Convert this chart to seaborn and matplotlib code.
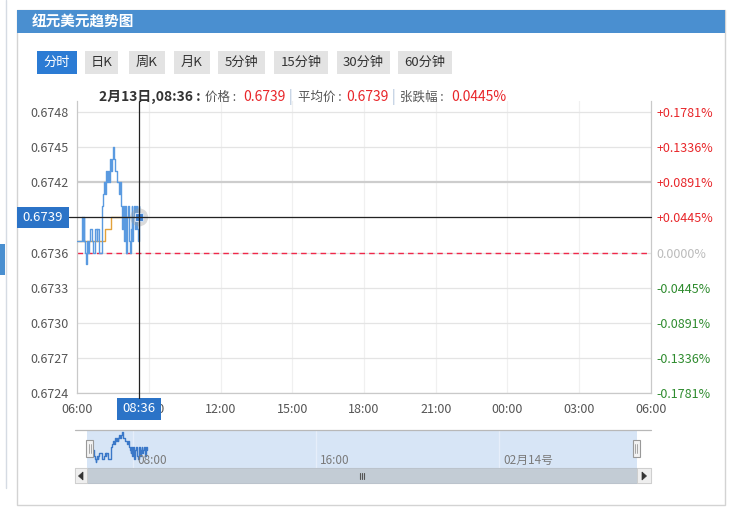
import numpy as np
import pandas as pd
import seaborn as sns
import matplotlib.pyplot as plt
from matplotlib.patches import Rectangle, Circle, Polygon
from matplotlib.lines import Line2D
from matplotlib.transforms import Bbox, TransformedBbox, IdentityTransform

sns.set_theme(style="white")
plt.rcParams['font.family'] = ['Noto Sans CJK SC', 'DejaVu Sans']

# ---------------- data ----------------
title = "纽元美元趋势图"
buttons = ["分时", "日K", "周K", "月K", "5分钟", "15分钟", "30分钟", "60分钟"]
date_label = "2月13日"
base_price = 0.6736  # previous close (red dashed line)

price_minutes = [0, 5, 13, 14, 17, 18, 21, 23, 24, 26, 28, 30, 32, 36, 38, 39, 43, 45, 46, 50,
                 51, 55, 56, 60, 62, 63, 65, 68, 70, 72, 74, 76, 78, 80, 82, 84, 86, 88, 91, 93,
                 95, 98, 100, 104, 106, 108, 110, 112, 114, 116, 118, 120, 122, 124, 126, 128,
                 131, 133, 135, 137, 139, 141, 143, 145, 147, 149, 151, 153, 155, 156]
prices = [0.6737, 0.6737, 0.6739, 0.6737, 0.6739, 0.6737, 0.6736, 0.6735, 0.6736, 0.6737,
          0.6736, 0.6737, 0.6738, 0.6738, 0.6737, 0.6736, 0.6736, 0.6737, 0.6738, 0.6737,
          0.6738, 0.6738, 0.6736, 0.6736, 0.6737, 0.6740, 0.6741, 0.6742, 0.6741, 0.6742,
          0.6743, 0.6742, 0.6743, 0.6742, 0.6743, 0.6744, 0.6743, 0.6744, 0.6745, 0.6744,
          0.6743, 0.6743, 0.6742, 0.6742, 0.6741, 0.6742, 0.6740, 0.6739, 0.6738, 0.6740,
          0.6737, 0.6740, 0.6738, 0.6736, 0.6739, 0.6740, 0.6737, 0.6736, 0.6738, 0.6740,
          0.6737, 0.6739, 0.6740, 0.6738, 0.6739, 0.6740, 0.6738, 0.6737, 0.6740, 0.6739]

avg_minutes = [0, 69, 86, 156]
avg_prices = [0.6737, 0.6738, 0.6739, 0.6739]

y_ticks = [0.6724, 0.6727, 0.6730, 0.6733, 0.6736, 0.6739, 0.6742, 0.6745, 0.6748]
x_ticks_h = [0, 3, 6, 9, 12, 15, 18, 21, 24]
x_tick_labels = ["06:00", "09:00", "12:00", "15:00", "18:00", "21:00", "00:00", "03:00", "06:00"]
nav_ticks_h = [2, 10, 18]
nav_tick_labels = ["08:00", "16:00", "02月14号"]

# ---------------- frame ----------------
W, H = 738, 516
fig = plt.figure(figsize=(W / 100, H / 100), dpi=100)
fig.patch.set_facecolor("white")

def frac(x0, y0, x1, y1):
    return [x0 / W, 1 - y1 / H, (x1 - x0) / W, (y1 - y0) / H]

df = pd.DataFrame({"h": np.array(price_minutes) / 60.0, "price": prices})
dfa = pd.DataFrame({"h": np.array(avg_minutes) / 60.0, "price": avg_prices})

# main axes: y 0.6724 at px 393, 0.0003 per 35.125 px; top at px 101
top_px, bot_px = 101, 393
px_per = 35.125 / 0.0003
ax = fig.add_axes(frac(77, top_px, 651, bot_px))
ax.set_facecolor("white")
ax.set_xlim(0, 24)
ax.set_ylim(y_ticks[0], y_ticks[0] + (bot_px - top_px) / px_per)

for i, yt in enumerate(y_ticks):
    if i == 6:
        ax.axhline(yt, color="#cdcdcd", lw=1.6, zorder=0.5)
    else:
        ax.axhline(yt, color="#e4e4e4", lw=0.9, zorder=0.5)
for xt in x_ticks_h[1:-1]:
    ax.axvline(xt, color="#f0f0f0", lw=0.9, zorder=0.4)

ax.axhline(base_price, color="#f0284a", lw=1.0, ls=(0, (4, 3)), zorder=1)

sns.lineplot(data=dfa, x="h", y="price", ax=ax, color="#e3a23a", lw=1.0,
             drawstyle="steps-post", zorder=2)
sns.lineplot(data=df, x="h", y="price", ax=ax, color="#5a9ae0", lw=1.0,
             drawstyle="steps-post", zorder=3)

last_price = prices[-1]
last_avg = avg_prices[-1]

ax.set_xlabel("")
ax.set_ylabel("")
ax.set_yticks(y_ticks)
ax.set_yticklabels([f"{v:.4f}" for v in y_ticks])
ax.set_xticks(x_ticks_h)
ax.set_xticklabels(x_tick_labels)
ax.tick_params(axis="both", length=0, labelsize=9, colors="#555555")
ax.tick_params(axis="y", pad=6)
ax.tick_params(axis="x", pad=7)
for s in ["left", "right", "bottom"]:
    ax.spines[s].set_color("#c9c9c9")
    ax.spines[s].set_linewidth(0.9)
ax.spines["top"].set_visible(False)

ax2 = ax.twinx()
ax2.set_ylim(ax.get_ylim())
ax2.set_yticks(y_ticks)
pct = [(v - base_price) / base_price * 100 for v in y_ticks]
labels_r = []
for p in pct:
    if abs(p) < 1e-9:
        labels_r.append("0.0000%")
    elif p > 0:
        labels_r.append(f"+{p:.4f}%")
    else:
        labels_r.append(f"-{abs(p):.4f}%")
ax2.set_yticklabels(labels_r)
ax2.tick_params(axis="y", length=0, labelsize=9, pad=4)
for lab, p in zip(ax2.get_yticklabels(), pct):
    lab.set_color("#bbbbbb" if abs(p) < 1e-9 else ("#e8262a" if p > 0 else "#2e8b2e"))
for s in ax2.spines.values():
    s.set_visible(False)
ax2.grid(False)

# navigator
nav = fig.add_axes(frac(87, 430, 637, 468))
nav.set_facecolor("#d7e5f6")
nav.set_xlim(0, 24)
nav.set_ylim(0.67330, 0.674567)
for h in nav_ticks_h:
    nav.axvline(h, color="#e6eefa", lw=1)
sns.lineplot(data=df, x="h", y="price", ax=nav, color="#3b78c8", lw=1.0,
             drawstyle="steps-post")
nav.set_xlabel("")
nav.set_ylabel("")
nav.set_xticks([])
nav.set_yticks([])
for s in nav.spines.values():
    s.set_visible(False)
for h, lab in zip(nav_ticks_h, nav_tick_labels):
    nav.annotate(lab, xy=(h, 0.2), xycoords=("data", "axes fraction"),
                 xytext=(3, 0), textcoords="offset points", fontsize=8.5,
                 color="#7a7a7a", ha="left", va="center")

# ---------------- overlay (pixel coords) ----------------
ov = fig.add_axes([0, 0, 1, 1], zorder=10)
ov.set_xlim(0, W)
ov.set_ylim(H, 0)
ov.set_axis_off()
ov.patch.set_alpha(0)

def R(x0, y0, x1, y1, **kw):
    ov.add_patch(Rectangle((x0, y0), x1 - x0, y1 - y0, **kw))

# left strip
ov.add_line(Line2D([5.5, 5.5], [0, 488], color="#d5dbe3", lw=1))
R(0, 244, 5, 275, facecolor="#4a8fd0", edgecolor="none")

# card
R(17, 10, 725, 505, facecolor="none", edgecolor="#d3d3d3", lw=1)
R(17, 10, 725, 33, facecolor="#4a8fd0", edgecolor="none")
ov.text(32, 21.5, title, color="white", fontsize=10.5, fontweight="bold",
        ha="left", va="center")

# buttons
btn_x = [(37, 77), (85, 118), (129, 165), (174, 210), (218, 265), (274, 328), (337, 390), (398, 452)]
for i, (lab, (x0, x1)) in enumerate(zip(buttons, btn_x)):
    sel = i == 0
    R(x0, 51, x1, 74, facecolor="#2b7bd4" if sel else "#e3e3e3", edgecolor="none")
    ov.text((x0 + x1) / 2, 62.5, lab, color="white" if sel else "#333333",
            fontsize=9.5, ha="center", va="center")

# info line
chg = (last_price - base_price) / base_price * 100
tot_min = 6 * 60 + price_minutes[-1]
time_lab = f"{(tot_min // 60) % 24:02d}:{tot_min % 60:02d}"
pieces = [
    (99, f"{date_label},{time_lab} :", "#333333", "bold", 10),
    (205, "价格 :", "#555555", "normal", 9),
    (243, f"{last_price:.4f}", "#e8262a", "normal", 10),
    (289, "|", "#a9bfd8", "normal", 10),
    (298, "平均价 :", "#555555", "normal", 9),
    (346, f"{last_avg:.4f}", "#e8262a", "normal", 10),
    (392, "|", "#a9bfd8", "normal", 10),
    (400, "张跌幅 :", "#555555", "normal", 9),
    (451, f"{chg:.4f}%", "#e8262a", "normal", 10),
]
for x, t, c, w, fs in pieces:
    ov.text(x, 97, t, color=c, fontsize=fs, fontweight=w, ha="left", va="center")

# crosshair from last data point
dx, dy = ax.transData.transform((df["h"].iloc[-1], last_price))
cx, cy = dx, H - dy
ov.add_line(Line2D([cx, cx], [top_px, 398], color="#222222", lw=0.9))
ov.add_line(Line2D([69, 651], [cy, cy], color="#222222", lw=0.9))
ov.add_patch(Circle((cx, cy), 9, facecolor="#9a9a9a", alpha=0.35, edgecolor="none"))
R(cx - 4, cy - 4, cx + 4, cy + 4, facecolor="#3d7fd0", edgecolor="#cfe0f5", lw=0.8)

R(17, cy - 10.5, 69, cy + 10.5, facecolor="#2b73c7", edgecolor="none")
ov.text(43, cy, f"{last_price:.4f}", color="white", fontsize=9.5, ha="center", va="center")
R(cx - 22, 398, cx + 22, 420, facecolor="#2b73c7", edgecolor="none")
ov.text(cx, 409, time_lab, color="white", fontsize=9.5, ha="center", va="center")

# tick labels hidden behind the crosshair labels (as in the reference)
for lab, v in zip(ax.get_yticklabels(), y_ticks):
    if abs(v - last_price) < 1e-9:
        lab.set_visible(False)
clip = TransformedBbox(Bbox.from_extents(cx + 22, 0, W, H), IdentityTransform())
xl = ax.get_xticklabels()
xl[1].set_clip_box(clip)
xl[1].set_clip_on(True)

# navigator frame & scrollbar
ov.add_line(Line2D([75, 651], [430, 430], color="#b8b8b8", lw=0.9))
R(75, 468, 651, 483, facecolor="#f2f2f2", edgecolor="#d0d0d0", lw=0.8)
R(87, 468, 637, 483, facecolor="#c3ccd5", edgecolor="#b9c2cb", lw=0.6)
R(75, 468, 87, 483, facecolor="#eeeeee", edgecolor="#cccccc", lw=0.6)
R(637, 468, 651, 483, facecolor="#eeeeee", edgecolor="#cccccc", lw=0.6)
ov.add_patch(Polygon([[83, 472], [83, 480], [78.5, 476]], closed=True,
                     facecolor="#333333", edgecolor="#333333", lw=0.5, zorder=5))
ov.add_patch(Polygon([[642, 472], [642, 480], [646.5, 476]], closed=True,
                     facecolor="#333333", edgecolor="#333333", lw=0.5, zorder=5))
for gx in (360, 362, 364):
    ov.add_line(Line2D([gx, gx], [473, 479], color="#555555", lw=0.8))
for hx in (89.5, 636):
    R(hx - 3.5, 440, hx + 3.5, 457, facecolor="#f2f2f2", edgecolor="#999999", lw=0.8)
    ov.add_line(Line2D([hx - 1, hx - 1], [444, 453], color="#999999", lw=0.6))
    ov.add_line(Line2D([hx + 1, hx + 1], [444, 453], color="#999999", lw=0.6))

fig.savefig("out.png", dpi=100, facecolor="white")
